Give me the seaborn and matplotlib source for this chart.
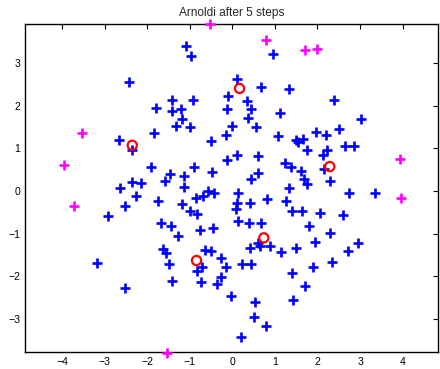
import numpy as np
import pandas as pd
import matplotlib
matplotlib.use("Agg")
import matplotlib.pyplot as plt
import seaborn as sns

title = "Arnoldi after 5 steps"

blue_x = [-1.09, -0.96, -2.42, -1.41, -0.93, -1.79, -1.41, -1.21, -1.18, -1.32,
          -1.00, -1.85, -2.66, -2.35, -0.50, -1.90, -1.46, -1.13, -0.91, -0.47,
          -2.36, -2.14, -1.57, -2.65, -1.13,
          0.96, 0.11, 0.67, 1.33, -0.09, 0.34, 0.44, -0.13, 2.40, 1.11,
          0.36, 3.02, 0.00, 0.55, -0.14, 1.08, 1.97, 2.19, 2.51, 1.49,
          1.55, 1.67, 1.75, 2.22, 2.14, 2.64, 2.86, -0.13, 0.10, 0.60,
          1.23, 1.39, 1.62, 2.15, 0.43, 0.61, 1.69, 1.75, 2.29,
          -2.26, -2.52, -2.91, -1.75, -1.19, -1.00, -0.82, -0.85, -0.70, -0.57,
          -0.43, -1.68, -1.45, -1.28, -0.76, -0.46, -1.62, -1.55, -1.49, -1.42,
          -3.19, -2.52, -0.63, -0.49, -0.83, -0.71, -0.74, -0.35, -0.26, -0.27,
          -0.15, -0.04,
          0.13, 1.32, 2.74, 3.36, 0.11, 0.42, 0.81, 1.25, 0.08, 1.41,
          1.64, 2.06, 2.59, 0.13, 0.40, 0.68, 1.81, 2.30, 0.60, 0.41,
          0.66, 0.89, 1.14, 1.49, 1.94, 2.72, 2.96, 2.33, 1.90, 1.41,
          1.70, 1.43, 0.23, 0.43, 0.54, 0.51, 0.79, 0.21]
blue_y = [3.39, 3.17, 2.55, 2.12, 2.13, 1.95, 1.87, 1.93, 1.69, 1.51,
          1.50, 1.35, 1.20, 0.95, 1.16, 0.56, 0.39, 0.34, 0.56, 0.44,
          0.22, 0.19, 0.23, 0.06, 0.09,
          3.20, 2.62, 2.44, 2.39, 2.23, 2.10, 1.93, 1.91, 2.14, 1.83,
          1.71, 1.69, 1.51, 1.50, 1.30, 1.28, 1.39, 1.30, 1.45, 1.20,
          1.15, 1.22, 0.96, 0.97, 0.83, 1.05, 1.05, 0.72, 0.85, 0.82,
          0.65, 0.55, 0.47, 0.52, 0.29, 0.41, 0.29, 0.17, 0.24,
          -0.13, -0.36, -0.59, -0.23, -0.31, -0.47, -0.53, -0.16, -0.12, 0.00,
          -0.06, -0.74, -0.82, -1.06, -0.91, -0.86, -1.36, -1.46, -1.71, -2.10,
          -1.69, -2.28, -1.38, -1.41, -1.87, -1.78, -2.13, -2.19, -2.02, -1.56,
          -1.79, -2.47,
          -0.04, 0.06, -0.04, -0.04, -0.29, -0.29, -0.19, -0.23, -0.42, -0.48,
          -0.46, -0.51, -0.57, -0.70, -0.75, -0.75, -0.82, -0.99, -1.22, -1.33,
          -1.29, -1.30, -1.43, -1.34, -1.20, -1.40, -1.22, -1.66, -1.79, -1.93,
          -2.22, -2.55, -1.71, -1.71, -2.61, -2.96, -3.16, -3.41]

magenta_x = [-0.53, 0.79, 1.71, 1.99, -3.53, -3.95, -3.73, -1.54, 3.94, 3.97]
magenta_y = [3.92, 3.54, 3.30, 3.32, 1.35, 0.60, -0.35, -3.79, 0.75, -0.16]

ritz_x = [-2.35, 0.17, 2.29, 0.74, -0.84]
ritz_y = [1.07, 2.40, 0.57, -1.10, -1.63]

xticks = [-4, -3, -2, -1, 0, 1, 2, 3, 4]
yticks = [-3, -2, -1, 0, 1, 2, 3]

sns.set_theme(style="white")
plt.rcParams['font.family'] = ['Liberation Sans', 'DejaVu Sans']
plt.rcParams['axes.unicode_minus'] = True

fig = plt.figure(figsize=(4.4, 3.69), dpi=100)
ax = fig.add_axes([25/440, (369-352.3)/369, (437.5-25)/440, (352.3-24)/369])

blue = pd.DataFrame({"x": blue_x, "y": blue_y})
mag = pd.DataFrame({"x": magenta_x, "y": magenta_y})
ritz = pd.DataFrame({"x": ritz_x, "y": ritz_y})

sns.scatterplot(data=blue, x="x", y="y", marker="+", s=50, color=(0, 0, 1),
                linewidth=1.9, ax=ax, clip_on=False, zorder=3)
sns.scatterplot(data=mag, x="x", y="y", marker="+", s=50, color=(1, 0, 1),
                linewidth=1.9, ax=ax, clip_on=False, zorder=3)
sns.scatterplot(data=ritz, x="x", y="y", marker="o", s=44, facecolor="none",
                edgecolor=(1, 0, 0), linewidth=1.6, ax=ax, zorder=4)

ax.set_xlim(-4.87, 4.82)
ax.set_ylim(-3.78, 3.91)
ax.set_xticks(xticks)
ax.set_yticks(yticks)
ax.set_xlabel("")
ax.set_ylabel("")
ax.tick_params(direction="in", length=3.5, width=0.8, labelsize=7.6,
               top=True, right=True, colors="black", pad=3.5)
for sp in ax.spines.values():
    sp.set_visible(True)
    sp.set_color("black")
    sp.set_linewidth(1.0)
ax.set_title(title, fontsize=8.6, pad=5.5)

fig.savefig("out.png", dpi=100)
